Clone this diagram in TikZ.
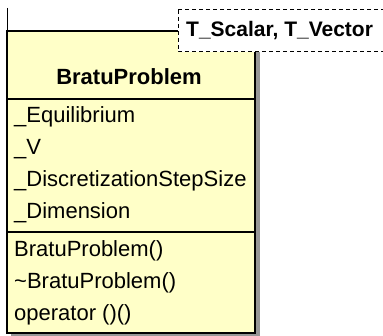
\documentclass[tikz,border=0pt]{standalone}
\usepackage{fontspec}
\setmainfont{Liberation Sans}
\definecolor{classfill}{RGB}{255,255,200}
\definecolor{shadowgray}{RGB}{150,150,150}
\tikzset{
  member/.style={anchor=base west, inner sep=0pt, font=\fontsize{22}{26}\selectfont},
  title/.style={anchor=base, inner sep=0pt, font=\fontsize{22}{26}\selectfont\bfseries},
  sep/.style={draw=black, line width=1.6pt},
}
\begin{document}
\begin{tikzpicture}[x=1pt,y=-1pt]
\useasboundingbox (0,0) rectangle (383,336);
% shadow
\fill[shadowgray] (11,35) rectangle (260,338);
% class box
\coordinate (tl) at (7,31);
\coordinate (br) at (255,333);
\fill[classfill] (tl) rectangle (br);
\draw[line width=1.8pt] (tl) rectangle (br);
\draw[line width=0.8pt] (7,8) -- (tl);
% compartments
\coordinate (s1l) at (7,99);  \coordinate (s1r) at (255,99);
\coordinate (s2l) at (7,232); \coordinate (s2r) at (255,232);
\draw[sep] (s1l) -- (s1r);
\draw[sep] (s2l) -- (s2r);
% title
\node[title] (name) at (129,85) {BratuProblem};
% attributes
\node[member] (a1) at (14,123) {\_Equilibrium};
\node[member] (a2) at (14,155) {\_V};
\node[member] (a3) at (14,187) {\_DiscretizationStepSize};
\node[member] (a4) at (14,219) {\_Dimension};
% operations
\node[member] (o1) at (14,257) {BratuProblem()};
\node[member] (o2) at (14,289) {\textasciitilde BratuProblem()};
\node[member] (o3) at (14,321) {operator ()()};
% template parameter box
\coordinate (ttl) at (178,10);
\coordinate (tbr) at (390,52);
\fill[white] (ttl) rectangle (tbr);
\draw[dashed, line width=1pt, dash pattern=on 4pt off 3pt] (ttl) rectangle (tbr);
\node[member, font=\fontsize{21}{25}\selectfont\bfseries] (tmpl) at (186,37) {T\_Scalar, T\_Vector};
\end{tikzpicture}
\end{document}
